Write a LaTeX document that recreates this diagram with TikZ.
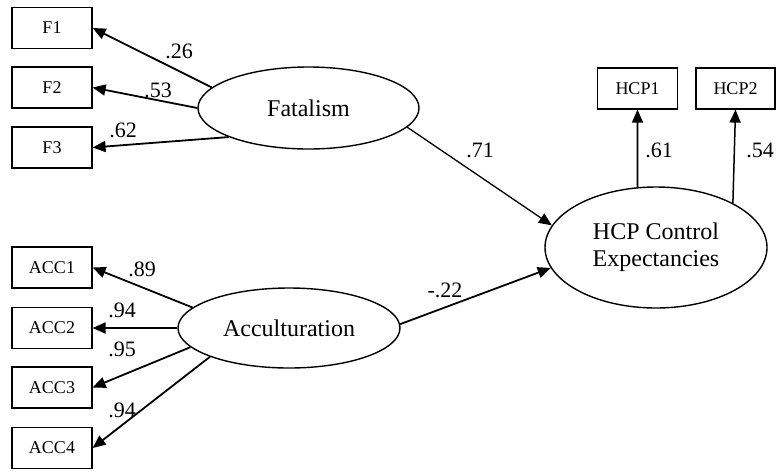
\documentclass[tikz,border=0pt]{standalone}
\usepackage{fontspec}
\setmainfont{Liberation Serif}
\usetikzlibrary{shapes.geometric,arrows.meta}
\begin{document}
\begin{tikzpicture}[x=1pt,y=-1pt,
  obs/.style={draw,line width=1.2pt,minimum width=80pt,minimum height=41pt,inner sep=0pt,font=\fontsize{18}{20}\selectfont},
  lat/.style={draw,ellipse,line width=1.4pt,inner sep=0pt,font=\fontsize{24}{27}\selectfont,align=center},
  arr/.style={line width=1.8pt,-{Triangle[length=13pt,width=11pt]}},
  thinarr/.style={line width=1.3pt,-{Triangle[length=13pt,width=11pt]}},
  coef/.style={inner sep=0pt,font=\fontsize{22}{24}\selectfont}]
\useasboundingbox (0,0) rectangle (776,472);
\fill[white] (0,0) rectangle (776,472);

% observed indicators
\node[obs] (F1) at (52,28) {F1};
\node[obs] (F2) at (52,87.5) {F2};
\node[obs] (F3) at (52,147.5) {F3};
\node[obs] (A1) at (52,267.5) {ACC1};
\node[obs] (A2) at (52,328) {ACC2};
\node[obs] (A3) at (52,387.5) {ACC3};
\node[obs] (A4) at (52,448) {ACC4};
\node[obs] (H1) at (637.5,88.5) {HCP1};
\node[obs,minimum width=79pt] (H2) at (735.5,88.5) {HCP2};

% latent variables
\node[lat,minimum width=221pt,minimum height=82pt] (fat) at (308.5,108) {Fatalism};
\node[lat,minimum width=222pt,minimum height=80pt] (acc) at (289,328) {Acculturation};
\node[lat,minimum width=222pt,minimum height=121pt] (hcp) at (656,247.5) {HCP Control\\Expectancies};

% loadings
\draw[arr] (fat.168.3) -- (F1.east);
\draw[arr] (fat.180) -- (F2.east);
\draw[arr] (fat.200.3) -- (F3.east);
\draw[arr] (acc.168.9) -- (A1.east);
\draw[arr,line width=2pt] (acc.180) -- (A2.east);
\draw[arr] (acc.191.7) -- (A3.east);
\draw[arr] (acc.200.8) -- (A4.east);
\draw[arr] (hcp.107.7) -- (H1.south);
\draw[thinarr,line width=1.5pt] (hcp.30) -- (H2.south);

% structural paths
\draw[thinarr] (fat.349.4) -- (hcp.168.5);
\draw[arr] (acc.2) -- (hcp.191.5);

% coefficients
\node[coef] (c1) at (179,51) {.26};
\node[coef] (c2) at (158,90) {.53};
\node[coef] (c3) at (123,130) {.62};
\node[coef] (c4) at (142,269) {.89};
\node[coef] (c5) at (122,310) {.94};
\node[coef] (c6) at (122,349) {.95};
\node[coef] (c7) at (122,410) {.94};
\node[coef] (c8) at (480,150) {.71};
\node[coef] (c9) at (445,290) {-.22};
\node[coef] (c10) at (659,150) {.61};
\node[coef] (c11) at (760,150) {.54};
\end{tikzpicture}
\end{document}
